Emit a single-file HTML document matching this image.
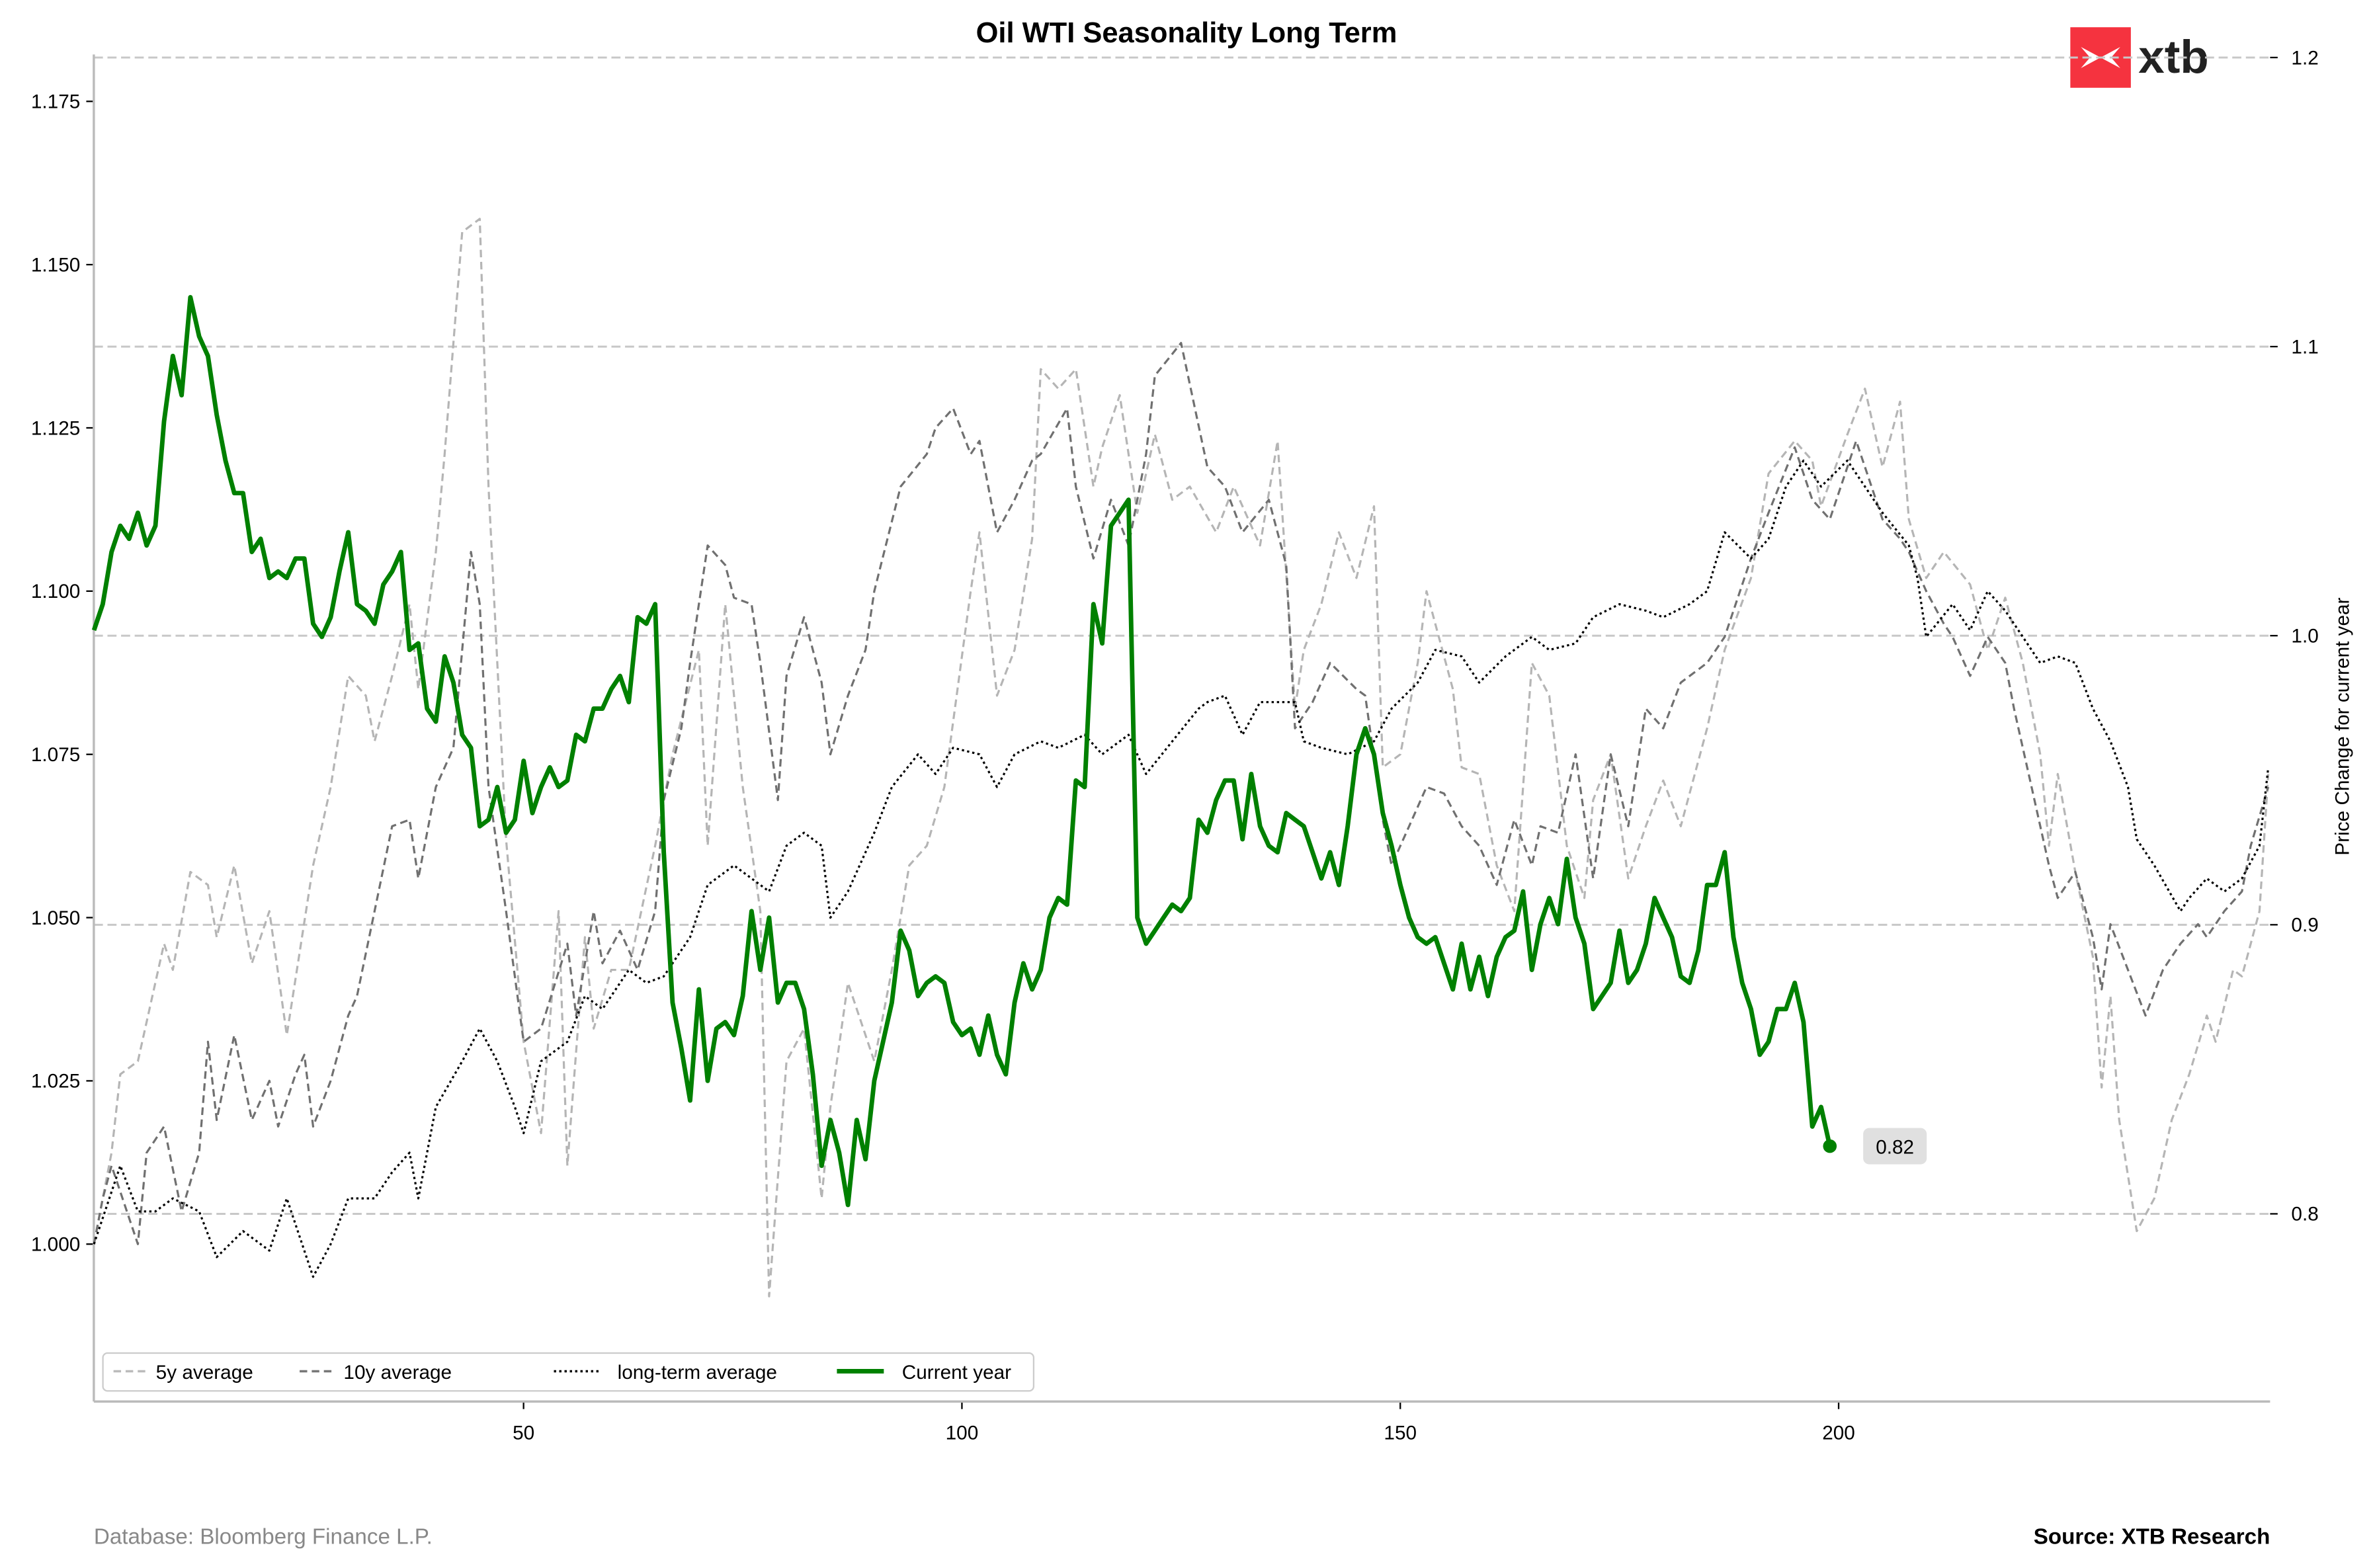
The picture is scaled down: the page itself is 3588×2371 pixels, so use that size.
<!DOCTYPE html>
<html><head><meta charset="utf-8"><style>
html,body{margin:0;padding:0;background:#fff;}
svg{display:block;font-family:"Liberation Sans",Arial,sans-serif;}
</style></head><body>
<svg id="chart" width="3588" height="2371" viewBox="0 0 1568 1036" preserveAspectRatio="none" xmlns="http://www.w3.org/2000/svg">
<rect x="0" y="0" width="1568" height="1036" fill="#fff"/>
<text x="784" y="28" text-anchor="middle" font-size="19" font-weight="bold" fill="#000">Oil WTI Seasonality Long Term</text>
<g>
<rect x="1368" y="18" width="40" height="40" fill="#f5333f"/>
<path d="M1375 31 L1388 38 L1375 45 L1381 38 Z M1401 31 L1388 38 L1401 45 L1395 38 Z" fill="#fff"/>
<text x="1413" y="48" font-size="31" font-weight="bold" fill="#222">xtb</text>
</g>
<g id="grid"></g>
<g id="axes"></g>
<g id="series"></g>
<g>
<rect x="68" y="894" width="615" height="25" rx="3" fill="#fff" stroke="#ccc" stroke-width="1"/>
<line x1="75" y1="906" x2="97" y2="906" stroke="#bbb" stroke-width="1.5" stroke-dasharray="5,3"/>
<text x="103" y="911" font-size="13" fill="#000">5y average</text>
<line x1="198" y1="906" x2="220" y2="906" stroke="#777" stroke-width="1.5" stroke-dasharray="5,3"/>
<text x="227" y="911" font-size="13" fill="#000">10y average</text>
<line x1="366" y1="906" x2="396" y2="906" stroke="#000" stroke-width="1.5" stroke-dasharray="1.5,2"/>
<text x="408" y="911" font-size="13" fill="#000">long-term average</text>
<line x1="553" y1="906" x2="584" y2="906" stroke="#008000" stroke-width="3"/>
<text x="596" y="911" font-size="13" fill="#000">Current year</text>
</g>
<text transform="translate(1552,480) rotate(-90)" text-anchor="middle" font-size="13" fill="#000">Price Change for current year</text>
<text x="62" y="1020" font-size="14.5" fill="#888">Database: Bloomberg Finance L.P.</text>
<text x="1500" y="1020" text-anchor="end" font-size="14.5" font-weight="bold" fill="#000">Source: XTB Research</text>
</svg>
<script>
const leftTicks=[1.000,1.025,1.050,1.075,1.100,1.125,1.150,1.175];
const rightTicks=[0.8,0.9,1.0,1.1,1.2];
const xTicks=[50,100,150,200];
const days5y=[1,3,4,6,9,10,12,14,15,17,19,21,23,26,28,30,32,33,35,37,38,40,41,43,45,46,48,50,52,54,55,57,58,60,62,65,67,70,71,73,75,77,78,80,82,84,85,87,90,92,94,96,98,101,102,104,106,108,109,111,113,115,116,118,120,122,124,126,129,131,134,136,138,139,141,143,145,147,148,150,152,153,156,157,159,161,163,165,167,169,171,172,174,176,178,180,182,185,187,190,192,195,197,198,201,203,205,207,208,210,212,215,217,219,221,223,224,225,227,229,230,231,232,234,236,238,240,242,243,245,246,248,249];
const vals5y=[1.000,1.014,1.026,1.028,1.046,1.042,1.057,1.055,1.047,1.058,1.043,1.051,1.032,1.058,1.070,1.087,1.084,1.077,1.087,1.098,1.085,1.106,1.121,1.155,1.157,1.116,1.062,1.031,1.017,1.051,1.012,1.047,1.033,1.042,1.042,1.061,1.075,1.091,1.061,1.098,1.070,1.051,0.992,1.028,1.033,1.007,1.021,1.040,1.028,1.042,1.058,1.061,1.070,1.100,1.109,1.084,1.091,1.108,1.134,1.131,1.134,1.116,1.122,1.130,1.112,1.124,1.114,1.116,1.109,1.116,1.107,1.123,1.082,1.091,1.098,1.109,1.102,1.113,1.073,1.075,1.089,1.100,1.085,1.073,1.072,1.058,1.051,1.089,1.084,1.061,1.053,1.068,1.075,1.056,1.064,1.071,1.064,1.079,1.091,1.102,1.118,1.123,1.120,1.113,1.124,1.131,1.119,1.129,1.111,1.102,1.106,1.101,1.091,1.099,1.089,1.075,1.061,1.072,1.057,1.044,1.024,1.038,1.019,1.002,1.007,1.019,1.026,1.035,1.031,1.042,1.041,1.051,1.072];
const days10y=[1,2,3,6,7,9,11,13,14,15,17,19,21,22,24,25,26,28,30,31,33,35,37,38,40,42,43,44,45,46,48,50,52,55,56,58,59,61,63,65,66,68,69,71,73,74,76,77,79,80,82,84,85,87,89,90,93,96,97,99,101,102,104,106,108,109,112,113,115,117,119,121,122,125,128,130,132,135,137,138,140,142,145,146,148,149,151,153,155,157,159,161,163,165,166,168,170,172,174,176,178,180,182,185,187,190,192,195,197,199,202,205,207,208,210,212,213,215,217,219,220,222,224,225,227,229,230,231,233,235,237,239,241,242,244,246,247,249];
const vals10y=[1.000,1.007,1.012,1.000,1.014,1.018,1.005,1.014,1.031,1.019,1.032,1.019,1.025,1.018,1.026,1.029,1.018,1.025,1.035,1.038,1.051,1.064,1.065,1.056,1.070,1.076,1.091,1.106,1.098,1.070,1.051,1.031,1.033,1.046,1.035,1.051,1.043,1.048,1.042,1.051,1.068,1.079,1.089,1.107,1.104,1.099,1.098,1.089,1.068,1.087,1.096,1.086,1.075,1.084,1.091,1.100,1.116,1.121,1.125,1.128,1.121,1.123,1.109,1.114,1.120,1.121,1.128,1.116,1.105,1.114,1.107,1.121,1.133,1.138,1.119,1.116,1.109,1.114,1.104,1.079,1.083,1.089,1.085,1.084,1.065,1.058,1.064,1.070,1.069,1.064,1.061,1.055,1.065,1.058,1.064,1.063,1.075,1.056,1.075,1.064,1.082,1.079,1.086,1.089,1.093,1.105,1.112,1.122,1.114,1.111,1.123,1.111,1.108,1.106,1.100,1.095,1.093,1.087,1.093,1.089,1.082,1.070,1.058,1.053,1.057,1.047,1.039,1.049,1.042,1.035,1.042,1.046,1.049,1.047,1.051,1.054,1.061,1.070];
const daysLT=[1,4,6,8,10,13,15,18,21,23,26,28,30,33,35,37,38,40,43,45,47,49,50,52,55,57,59,62,64,66,69,71,74,76,78,80,82,84,85,87,90,92,95,97,99,102,104,106,109,111,114,116,119,121,124,127,128,130,132,134,138,139,141,144,147,149,152,154,157,159,162,165,167,170,172,175,178,180,183,185,187,190,192,194,196,198,201,203,205,208,209,210,213,215,217,219,221,223,225,227,229,231,233,234,236,239,240,242,244,246,248,249];
const valsLT=[1.000,1.012,1.005,1.005,1.007,1.005,0.998,1.002,0.999,1.007,0.995,1.000,1.007,1.007,1.011,1.014,1.007,1.021,1.028,1.033,1.028,1.021,1.017,1.028,1.031,1.038,1.036,1.042,1.040,1.041,1.047,1.055,1.058,1.056,1.054,1.061,1.063,1.061,1.050,1.054,1.063,1.070,1.075,1.072,1.076,1.075,1.070,1.075,1.077,1.076,1.078,1.075,1.078,1.072,1.077,1.082,1.083,1.084,1.078,1.083,1.083,1.077,1.076,1.075,1.077,1.082,1.086,1.091,1.090,1.086,1.090,1.093,1.091,1.092,1.096,1.098,1.097,1.096,1.098,1.100,1.109,1.105,1.108,1.116,1.120,1.116,1.120,1.116,1.112,1.107,1.102,1.093,1.098,1.094,1.100,1.097,1.093,1.089,1.090,1.089,1.082,1.077,1.070,1.062,1.058,1.051,1.053,1.056,1.054,1.056,1.061,1.073];
const valsCur=[1.094,1.098,1.106,1.110,1.108,1.112,1.107,1.110,1.126,1.136,1.130,1.145,1.139,1.136,1.127,1.120,1.115,1.115,1.106,1.108,1.102,1.103,1.102,1.105,1.105,1.095,1.093,1.096,1.103,1.109,1.098,1.097,1.095,1.101,1.103,1.106,1.091,1.092,1.082,1.080,1.090,1.086,1.078,1.076,1.064,1.065,1.070,1.063,1.065,1.074,1.066,1.070,1.073,1.070,1.071,1.078,1.077,1.082,1.082,1.085,1.087,1.083,1.096,1.095,1.098,1.060,1.037,1.030,1.022,1.039,1.025,1.033,1.034,1.032,1.038,1.051,1.042,1.050,1.037,1.040,1.040,1.036,1.026,1.012,1.019,1.014,1.006,1.019,1.013,1.025,1.031,1.037,1.048,1.045,1.038,1.040,1.041,1.040,1.034,1.032,1.033,1.029,1.035,1.029,1.026,1.037,1.043,1.039,1.042,1.050,1.053,1.052,1.071,1.070,1.098,1.092,1.110,1.112,1.114,1.050,1.046,1.048,1.050,1.052,1.051,1.053,1.065,1.063,1.068,1.071,1.071,1.062,1.072,1.064,1.061,1.060,1.066,1.065,1.064,1.060,1.056,1.060,1.055,1.064,1.075,1.079,1.075,1.066,1.061,1.055,1.050,1.047,1.046,1.047,1.043,1.039,1.046,1.039,1.044,1.038,1.044,1.047,1.048,1.054,1.042,1.049,1.053,1.049,1.059,1.050,1.046,1.036,1.038,1.040,1.048,1.040,1.042,1.046,1.053,1.050,1.047,1.041,1.040,1.045,1.055,1.055,1.060,1.047,1.040,1.036,1.029,1.031,1.036,1.036,1.040,1.034,1.018,1.021,1.015];
const lastLabel="0.82";

const NS="http://www.w3.org/2000/svg";
const X0=62,X1=1500,YTOP=36,YBOT=926;
function xs(d){return 62.1+(d-1)*5.793;}
function ys(v){return 822-(v-1)/0.025*107.86;}
function ysR(v){return 802-(v-0.8)/0.1*191;}
function mk(tag,attrs,parent){const e=document.createElementNS(NS,tag);for(const k in attrs)e.setAttribute(k,attrs[k]);parent.appendChild(e);return e;}
const grid=document.getElementById('grid'),axes=document.getElementById('axes'),ser=document.getElementById('series');

rightTicks.forEach(t=>{
  const y=ysR(t);
  const g=mk('line',{x1:X0,x2:X1,y1:y,y2:y,stroke:'#c8c8c8','stroke-width':1.3,'stroke-dasharray':'6,3'},grid);
  
  
  mk('line',{x1:X1,x2:X1+5,y1:y,y2:y,stroke:'#000','stroke-width':1},axes);
  const tx=mk('text',{x:X1+14,y:y+4.5,'font-size':13,fill:'#000'},axes);
  tx.textContent=t.toFixed(1);
  
  
});
leftTicks.forEach(t=>{
  const y=ys(t);
  mk('line',{x1:X0-5,x2:X0,y1:y,y2:y,stroke:'#000','stroke-width':1},axes);
  const tx=mk('text',{x:X0-9,y:y+4.5,'font-size':13,fill:'#000','text-anchor':'end'},axes);
  tx.textContent=t.toFixed(3);
  
  
});
xTicks.forEach(t=>{
  const x=xs(t);
  mk('line',{x1:x,x2:x,y1:YBOT,y2:YBOT+5,stroke:'#000','stroke-width':1},axes);
  const tx=mk('text',{x:x,y:YBOT+25,'font-size':13,fill:'#000','text-anchor':'middle'},axes);
  tx.textContent=t;
  
  
});
const ls=mk('line',{x1:X0,x2:X0,y1:YTOP,y2:YBOT,stroke:'#bbb','stroke-width':1.5},axes);


const bs=mk('line',{x1:X0,x2:X1,y1:YBOT,y2:YBOT,stroke:'#bbb','stroke-width':1.5},axes);



function line(days,vals,style,name){
  const pts=vals.map((v,i)=>xs(days?days[i]:i+1).toFixed(1)+','+ys(v).toFixed(1)).join(' ');
  const p=mk('polyline',Object.assign({points:pts,fill:'none','stroke-linejoin':'round'},style),ser);
  
  
}
line(days5y,vals5y,{stroke:'#b5b5b5','stroke-width':1.4,'stroke-dasharray':'5,3'},'five-year-average-line');
line(days10y,vals10y,{stroke:'#707070','stroke-width':1.4,'stroke-dasharray':'5,3'},'ten-year-average-line');
line(daysLT,valsLT,{stroke:'#000','stroke-width':1.4,'stroke-dasharray':'1.5,2'},'long-term-average-line');
line(null,valsCur,{stroke:'#008000','stroke-width':3},'current-year-line');
const n=valsCur.length, ex=xs(n), ey=ys(valsCur[n-1]);
const dot=mk('circle',{cx:ex,cy:ey,r:4.5,fill:'#008000'},ser);


const lb=mk('rect',{x:ex+22,y:ey-12,width:42,height:24,rx:4,fill:'#e0e0e0'},ser);


const lt=mk('text',{x:ex+43,y:ey+5,'font-size':13,'text-anchor':'middle',fill:'#000'},ser);
lt.textContent=lastLabel;


</script>
</body></html>
